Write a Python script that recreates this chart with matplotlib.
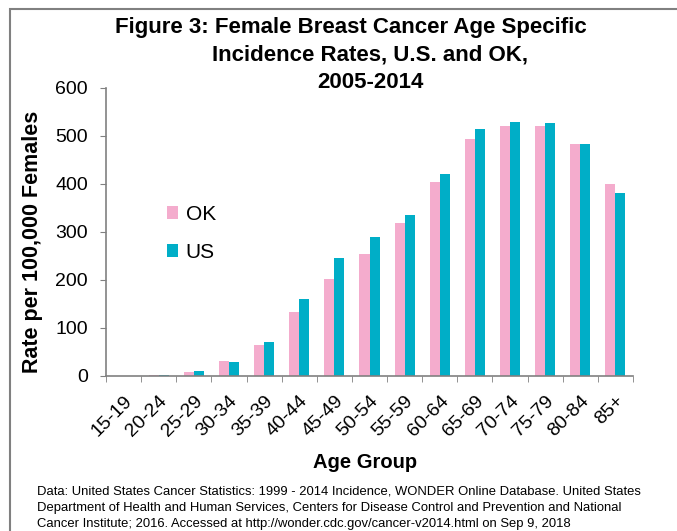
import matplotlib
matplotlib.use("Agg")
import matplotlib.pyplot as plt
import numpy as np
from matplotlib.patches import Rectangle

plt.rcParams['font.family'] = ['Liberation Sans', 'DejaVu Sans']

age_groups = ["15-19", "20-24", "25-29", "30-34", "35-39", "40-44", "45-49", "50-54",
              "55-59", "60-64", "65-69", "70-74", "75-79", "80-84", "85+"]
ok_rates = [0.2, 1.5, 7.5, 31, 65, 134, 203, 254, 318, 404, 494, 520, 520, 484, 401]
us_rates = [0.2, 1.6, 9.5, 29, 71, 161, 246, 290, 336, 421, 514, 530, 527, 484, 382]
y_ticks = [0, 100, 200, 300, 400, 500, 600]

pink = "#F4ACCD"
teal = "#00AEC7"
gray = "#808080"

fig = plt.figure(figsize=(6.77, 5.31), dpi=100)
ax = fig.add_axes([106/677, 1-376/531, (633-106)/677, (376-88)/531])

x = np.arange(len(age_groups))
w = 0.285
ax.bar(x - w/2, ok_rates, width=w, color=pink, label="OK")
ax.bar(x + w/2, us_rates, width=w, color=teal, label="US")

ax.set_xlim(-0.5, len(age_groups) - 0.5)
ax.set_ylim(0, 600)
ax.set_yticks(y_ticks)
ax.tick_params(axis='y', labelsize=14, length=4.3, color=gray, direction='out', pad=8.6)

ax.set_xticks(x)
ax.set_xticklabels(age_groups, rotation=45, ha='right', va='top', rotation_mode='anchor', fontsize=14)
ax.tick_params(axis='x', which='major', length=0, pad=12)
ax.set_xticks(np.arange(-0.5, len(age_groups)), minor=True)
ax.tick_params(axis='x', which='minor', length=4.5, color=gray, direction='out')

for s in ['top', 'right']:
    ax.spines[s].set_visible(False)
for s in ['left', 'bottom']:
    ax.spines[s].set_color(gray)
    ax.spines[s].set_linewidth(1.2)

ax.set_ylabel("Rate per 100,000 Females", fontsize=15.5, fontweight='bold')
ax.yaxis.set_label_coords((33-106)/527, (376-242)/288)
ax.set_xlabel("Age Group", fontsize=14.5, fontweight='bold')
ax.xaxis.set_label_coords((365-106)/527, -(462-376)/288)
ax.xaxis.label.set_va('center')
ax.yaxis.label.set_va('center')

leg = ax.legend(loc='upper left', bbox_to_anchor=((167-106)/527, (376-205)/288), frameon=False,
                fontsize=15, handlelength=0.55, handleheight=0.55, handletextpad=0.35,
                labelspacing=0.9, borderaxespad=0, borderpad=0)

fig.text(351/677, 1-27/531, "Figure 3: Female Breast Cancer Age Specific",
         ha='center', va='center', fontsize=16, fontweight='bold')
fig.text(370/677, 1-55/531, "Incidence Rates, U.S. and OK,",
         ha='center', va='center', fontsize=16, fontweight='bold')
fig.text(370/677, 1-83/531, "2005-2014",
         ha='center', va='center', fontsize=16, fontweight='bold')

fig.text(37/677, 1-485/531,
         "Data: United States Cancer Statistics: 1999 - 2014 Incidence, WONDER Online Database. United States\n"
         "Department of Health and Human Services, Centers for Disease Control and Prevention and National\n"
         "Cancer Institute; 2016. Accessed at http://wonder.cdc.gov/cancer-v2014.html on Sep 9, 2018",
         ha='left', va='top', fontsize=9.4, linespacing=1.5)

fig.patches.append(Rectangle((10/677, -0.1), 1.2, 0.1 + (531-9)/531, transform=fig.transFigure,
                             fill=False, edgecolor=gray, linewidth=1.5, zorder=10))

fig.savefig("out.png", dpi=100)
